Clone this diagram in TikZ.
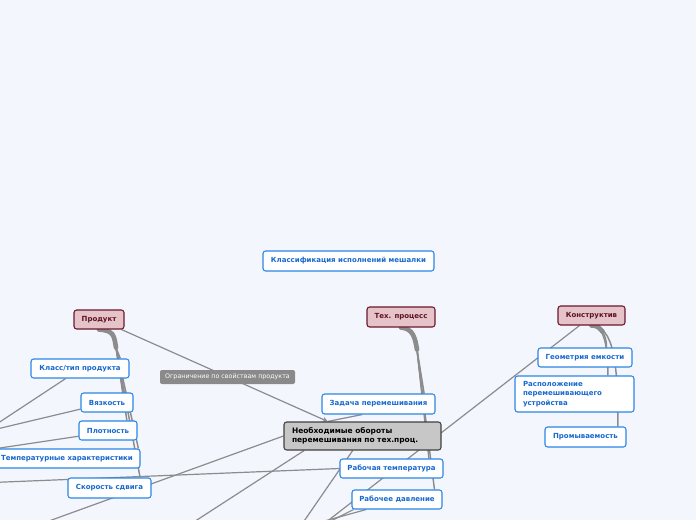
\documentclass[tikz,border=0pt]{standalone}
\usepackage{fontspec}
\setmainfont{DejaVu Sans}
\usetikzlibrary{calc,backgrounds,arrows.meta}
\definecolor{pagebg}{HTML}{F3F6FD}
\definecolor{leafline}{HTML}{2B86E6}
\definecolor{leaftext}{HTML}{1769CF}
\definecolor{topicfill}{HTML}{E5C3C9}
\definecolor{topicline}{HTML}{6A1A2B}
\definecolor{topictext}{HTML}{5C1222}
\definecolor{centfill}{HTML}{C7C7C7}
\definecolor{centline}{HTML}{404040}
\definecolor{notefill}{HTML}{8A8A8A}
\definecolor{linkc}{HTML}{8C8C8C}
\newcommand{\mmfont}{\fontsize{5.25}{7}\selectfont}
\newcommand{\centfont}{\fontsize{5.6}{7}\selectfont}
\newcommand{\notefont}{\fontsize{4.75}{6}\selectfont}
\tikzset{
  sz/.style 2 args={minimum width=#1*0.75pt, minimum height=#2*0.75pt},
  leaf/.style={draw=leafline, fill=white, text=leaftext, line width=0.8pt,
    rounded corners=2pt, inner sep=0pt, font=\mmfont\bfseries},
  topic/.style={leaf, draw=topicline, fill=topicfill, text=topictext},
  central/.style={leaf, draw=centline, fill=centfill, text=black, align=left,
    inner xsep=6pt, font=\centfont\bfseries},
  note/.style={fill=notefill, text=white, rounded corners=1.5pt, inner sep=0pt,
    font=\notefont},
  link/.style={draw=linkc, line width=0.9pt},
  strand/.style={draw=linkc, line width=1.1pt},
  trunk/.style={draw=linkc, line width=3.5pt, line cap=round},
}
\begin{document}
\begin{tikzpicture}[x=0.75pt, y=-0.75pt]
  \useasboundingbox (0,0) rectangle (696,520);
  % Temi principali
  \node[leaf, sz={171}{20}] (klass) at (348.5,261) {Классификация исполнений мешалки};
  \node[topic, sz={50}{19}] (prod) at (99,319.5) {Продукт};
  \node[topic, sz={68}{20}] (tech) at (401,317) {Тех. процесс};
  \node[topic, sz={67}{19}] (konstr) at (591.5,315.5) {Конструктив};
  % Produkt
  \node[leaf, sz={98}{19}] (kltip) at (80,368.5) {Класс/тип продукта};
  \node[leaf, sz={52}{19}] (vyaz) at (107,402.5) {Вязкость};
  \node[leaf, sz={58}{19}] (plot) at (108,430.5) {Плотность};
  \node[leaf, sz={146}{19}] (temph) at (67,458.5) {Температурные характеристики};
  \node[leaf, sz={83}{20}] (skor) at (109.5,488) {Скорость сдвига};
  % Tech. process
  \node[leaf, sz={113}{20}] (zadacha) at (378.5,404) {Задача перемешивания};
  \node[central, text width=141*0.75pt, sz={157}{28}] (nobor) at (362.5,436)
    {Необходимые обороты\\перемешивания по тех.проц.};
  \node[leaf, sz={103}{19}] (rtemp) at (391.5,468.5) {Рабочая температура};
  \node[leaf, sz={90}{19}] (rdav) at (397,499.5) {Рабочее давление};
  % Konstruktiv
  \node[leaf, sz={94}{19}] (geom) at (585,357.5) {Геометрия емкости};
  \node[leaf, align=left, text width=103*0.75pt, inner xsep=6pt, sz={119}{36}] (rasp)
    at (574.5,394) {Расположение\\перемешивающего\\устройства};
  \node[leaf, sz={81}{20}] (prom) at (585.5,437) {Промываемость};
  % Nota
  \node[note, sz={135}{14}] (ogran) at (227.5,377) {Ограничение по свойствам продукта};
  \coordinate (nobortop) at ($(nobor.north west)!0.28!(nobor.north east)$);
  % Fuori quadro
  \coordinate (offA) at (-20,546);
  \coordinate (offB) at (166,540);
  \coordinate (offC) at (291,540);
  \coordinate (offD) at (303,540);
  \coordinate (offE) at (-20,483);
  \coordinate (offF) at (-20,435);
  \coordinate (offG) at (-20,433);
  \coordinate (offH) at (-20,451);
  \coordinate (offI) at (293,540);
  \coordinate (offJ) at (256,540);
  \begin{scope}[on background layer]
    \fill[pagebg] (0,0) rectangle (696,520);
    \clip (0,0) rectangle (696,520);
    % Collegamenti
    \draw[link, -{Stealth[length=4pt,width=4pt]}] (prod) -- (nobortop);
    \draw[link] (zadacha.213) -- (nobortop);
    \draw[link] (konstr.220) -- (offD);
    \draw[link] (nobor.west) -- (offA);
    \draw[link] (nobor.194) -- (offB);
    \draw[link] (nobor.236) -- (offC);
    \draw[link] (rtemp.west) -- (offE);
    \draw[link] (kltip.215) -- (offF);
    \draw[link] (vyaz.194) -- (offG);
    \draw[link] (plot.191) -- (offH);
    \draw[link] (rdav.193) -- (offI);
    \draw[link] (rdav.198) -- (offJ);
    % Rami
    \draw[trunk] (prod.south) .. controls +(15,1) and +(-2,-12) .. +(17,18);
    \foreach \kid/\ang in {kltip/14, vyaz/32, plot/28, temph/8, skor/19}
      \draw[strand] (prod.south) .. controls +(15,1) and +(-2,-12) .. +(17,18) -- (\kid.\ang);
    \draw[trunk] (tech.south) .. controls +(12,1) and +(-2,-12) .. +(16,22);
    \foreach \kid/\ang in {zadacha/13, nobor/13, rtemp/15, rdav/15}
      \draw[strand] (tech.south) .. controls +(12,1) and +(-2,-12) .. +(16,22) -- (\kid.\ang);
    \draw[trunk] (konstr.south) .. controls +(7,0) and +(-3,-3) .. +(11,6);
    \draw[strand] (konstr.south) .. controls +(10,0) and +(0,-12) .. (geom.25);
    \draw[strand] (konstr.south) .. controls +(13,0) and +(0,-28) .. (rasp.29);
    \draw[strand] (konstr.south) .. controls +(22,1) and +(0,-65) .. (prom.18);
  \end{scope}
\end{tikzpicture}
\end{document}
